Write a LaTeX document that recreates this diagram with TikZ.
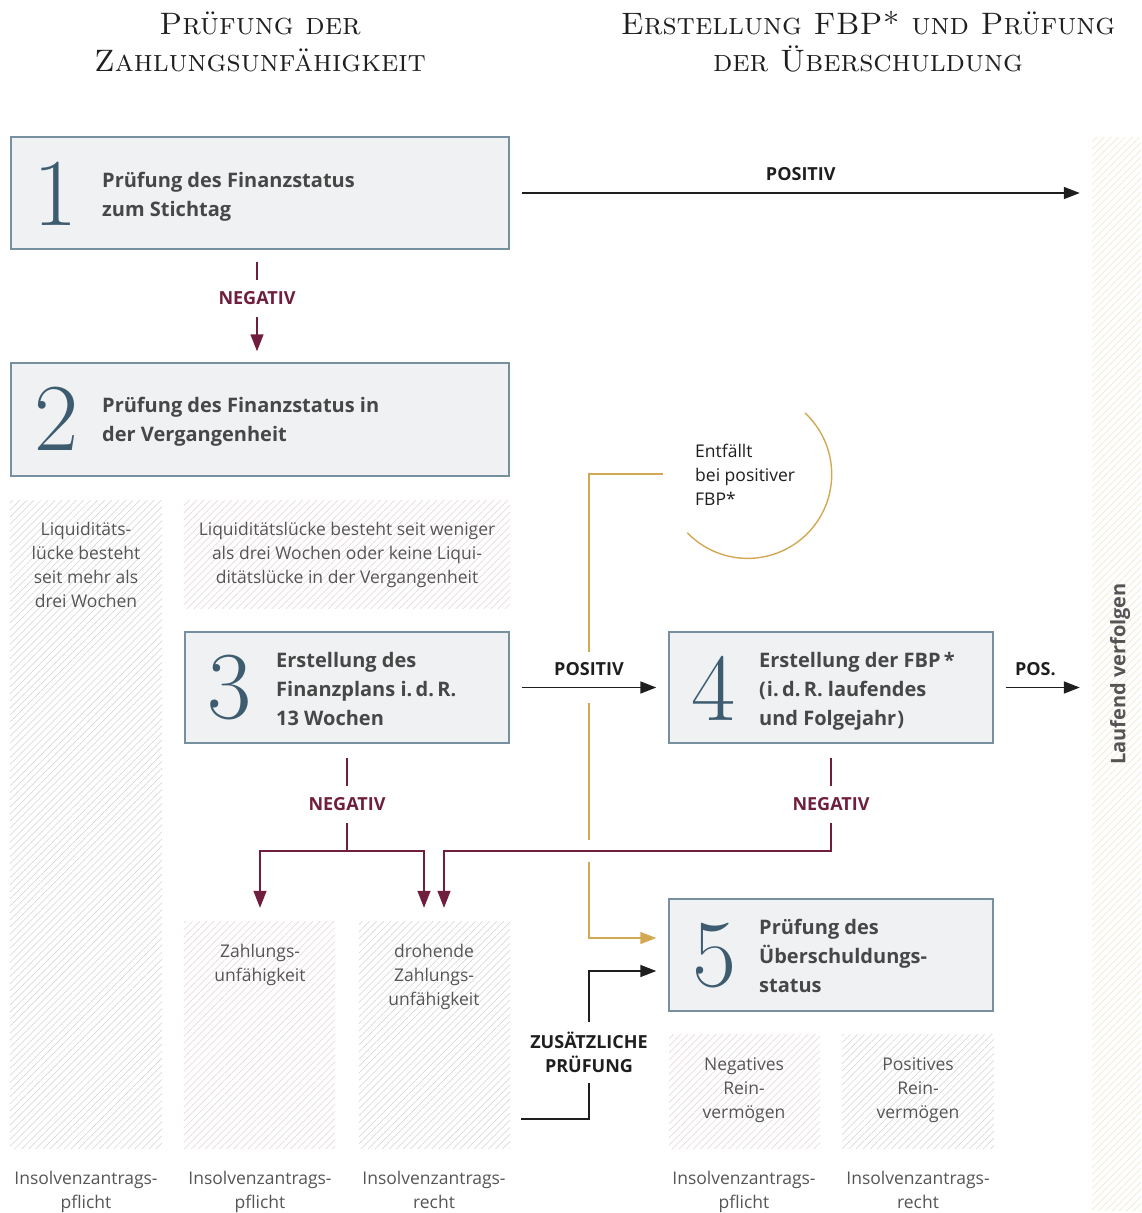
\documentclass[tikz,border=0pt]{standalone}
\usepackage{fontspec}
\newfontfamily\osans{Open Sans}
\usetikzlibrary{arrows.meta,patterns.meta,calc}
\definecolor{boxfill}{HTML}{EFF1F3}
\definecolor{boxline}{HTML}{7690A0}
\definecolor{numcol}{HTML}{3E5C70}
\definecolor{txt}{HTML}{474747}
\definecolor{ltxt}{HTML}{555555}
\definecolor{lblc}{HTML}{1E1E1E}
\definecolor{maroon}{HTML}{6F1F3D}
\definecolor{gold}{HTML}{D2A852}
\definecolor{hgrey}{HTML}{DADADA}
\definecolor{hpink}{HTML}{E8D9DE}
\definecolor{hbeige}{HTML}{EEE8D3}
\newcommand\fsz[2]{\fontsize{#1}{#2}\selectfont}
\begin{document}
\begin{tikzpicture}[x=1pt,y=-1pt,
  box/.style={draw=boxline, fill=boxfill, line width=1.4pt, inner sep=0pt, minimum height=112pt},
  num/.style={font=\fsz{96}{96}\rmfamily, text=numcol, inner sep=0pt},
  btxt/.style={font=\osans\bfseries\fsz{20}{29}, text=txt, align=left, anchor=west, inner sep=0pt},
  htxt/.style={font=\osans\fsz{17.5}{24}, text=ltxt, align=center, anchor=north, inner sep=0pt},
  foot/.style={font=\osans\fsz{17.5}{24}, text=ltxt, align=center, anchor=north, inner sep=0pt},
  hatch/.style={pattern={Lines[angle=45,distance=5pt,line width=0.7pt]}, pattern color=#1, inner sep=0pt},
  head/.style={font=\fsz{31}{37}\scshape, text=black!88, align=center},
  lbl/.style={font=\osans\bfseries\fsz{18}{24}, text=lblc},
  mlbl/.style={font=\osans\bfseries\fsz{18}{24}, text=maroon, fill=white, inner xsep=4pt, inner ysep=12pt},
  arr/.style={draw=lblc, line width=1.6pt, -{Triangle[length=16pt,width=12pt]}},
  marr/.style={draw=maroon, line width=1.4pt, -{Triangle[length=17pt,width=13pt]}},
  mline/.style={draw=maroon, line width=1.4pt},
  gline/.style={draw=gold, line width=1.4pt},
  garr/.style={draw=gold, line width=1.4pt, -{Triangle[length=16pt,width=12pt]}}
]
\useasboundingbox (0,0) rectangle (1141,1213);

% headers
\node[head] (h1) at (260,42) {Prüfung der\\Zahlungsunfähigkeit};
\node[head] (h2) at (868,42) {Erstellung FBP* und Prüfung\\der Überschuldung};

% hatched regions
\node[hatch=hgrey, minimum width=152pt, minimum height=648pt] (hA) at (86,824) {};
\node[hatch=hpink, minimum width=326pt, minimum height=108pt] (hB) at (347,554) {};
\node[hatch=hpink, minimum width=151pt, minimum height=227pt] (hC) at (259.5,1034.5) {};
\node[hatch=hgrey, minimum width=151pt, minimum height=227pt] (hD) at (434.5,1034.5) {};
\node[hatch=hpink, minimum width=151pt, minimum height=114pt] (hE) at (744.5,1091) {};
\node[hatch=hgrey, minimum width=152pt, minimum height=114pt] (hF) at (918,1091) {};
\node[hatch=hbeige, minimum width=49pt, minimum height=1073pt] (strip) at (1116.5,673.5) {};

\node[htxt] (tA) at (86,522) {Liquiditäts-\\lücke besteht\\seit mehr als\\drei Wochen};
\node[htxt] (tB) at (347,522) {Liquiditätslücke besteht seit weniger\\als drei Wochen oder keine Liqui-\\ditätslücke in der Vergangenheit};
\node[htxt] (tC) at (260,944) {Zahlungs-\\unfähigkeit};
\node[htxt] (tD) at (434,944) {drohende\\Zahlungs-\\unfähigkeit};
\node[htxt] (tE) at (744,1057) {Negatives\\Rein-\\vermögen};
\node[htxt] (tF) at (918,1057) {Positives\\Rein-\\vermögen};
\node[font=\osans\bfseries\fsz{20}{24}, text=ltxt, rotate=90] (tS) at (1120,674) {Laufend verfolgen};

% footer labels
\node[foot] (fA) at (86,1171) {Insolvenzantrags-\\pflicht};
\node[foot] (fC) at (260,1171) {Insolvenzantrags-\\pflicht};
\node[foot] (fD) at (434,1171) {Insolvenzantrags-\\recht};
\node[foot] (fE) at (744,1171) {Insolvenzantrags-\\pflicht};
\node[foot] (fF) at (918,1171) {Insolvenzantrags-\\recht};

% boxes
\node[box, minimum width=498pt] (b1) at (260,193) {};
\node[box, minimum width=498pt, minimum height=113pt] (b2) at (260,419.5) {};
\node[box, minimum width=324pt, minimum height=111pt] (b3) at (347,687.5) {};
\node[box, minimum width=324pt, minimum height=111pt] (b4) at (831,687.5) {};
\node[box, minimum width=324pt] (b5) at (831,955) {};

\node[num] (n1) at (56,194) {1};
\node[num] (n2) at (57,419) {2};
\node[num] (n3) at (230,688) {3};
\node[num] (n4) at (714,688) {4};
\node[num] (n5) at (715,956) {5};

\node[btxt] (t1) at (102,197) {Prüfung des Finanzstatus\\zum Stichtag};
\node[btxt] (t2) at (102,422) {Prüfung des Finanzstatus in\\der Vergangenheit};
\node[btxt] (t3) at (276,689) {Erstellung des\\Finanzplans i.\,d.\,R.\\13 Wochen};
\node[btxt] (t4) at (759,691) {Erstellung der FBP\,*\\(\kern1pt i.\,d.\,R. laufendes\\und Folgejahr\kern1pt)};
\node[btxt] (t5) at (759,956) {Prüfung des\\Überschuldungs-\\status};

% Entfällt note
\node[font=\osans\fsz{17.5}{24}, text=lblc, align=left, anchor=west, inner sep=0pt] (entf) at (695,475) {Entfällt\\bei positiver\\FBP*};
\draw[gline] (747.7,474.4) ++(-47:84) arc[start angle=-47, end angle=136, radius=84];

% connectors
\draw[arr] ($(b1.east)+(12,0)$) -- ($(strip.west|-b1.east)+(-12,0)$) node[lbl, midway, above=8pt] {POSITIV};
\draw[marr] ($(b1.south)+(-3,12)$) -- node[mlbl, pos=0.41] {NEGATIV} ($(b2.north)+(-3,-11)$);
\draw[arr] ($(b3.east)+(12,0)$) -- ($(b4.west)+(-12,0)$) node[lbl, midway, above=8pt] {POSITIV};
\draw[arr] ($(b4.east)+(12,0)$) -- ($(strip.west|-b4.east)+(-12,0)$) node[lbl, pos=0.4, above=8pt] {POS.};

\coordinate (j3) at (347,851);
\coordinate (j4) at (831,851);
\draw[mline] ($(b3.south)+(0,14)$) -- node[mlbl] {NEGATIV} (j3);
\draw[marr] (j3) -| ($(hC.north)+(0.5,-13)$);
\draw[marr] (j3) -| ($(hD.north)+(-10.5,-13)$);
\draw[marr] ($(b4.south)+(0,14)$) -- node[mlbl] {NEGATIV} (j4) -| ($(hD.north)+(9.5,-13)$);

% gold path
\coordinate (g0) at ($(entf.west)+(-32,-1)$);
\draw[gline] (g0) -| (589,652);
\draw[gline] (589,703) -- (589,840);
\draw[garr] (589,862) |- ($(b5.west)+(-12,-17)$);

% zusaetzliche Pruefung
\coordinate (zs) at ($(hD.east)+(11,84.5)$);
\draw[arr] (zs) -| node[pos=0.725, fill=white, inner xsep=2pt, inner ysep=10pt, font=\osans\bfseries\fsz{18}{24}, text=lblc, align=center] {ZUSÄTZLICHE\\PRÜFUNG} (589,971) -- ($(b5.west)+(-12,16)$);
\end{tikzpicture}
\end{document}
